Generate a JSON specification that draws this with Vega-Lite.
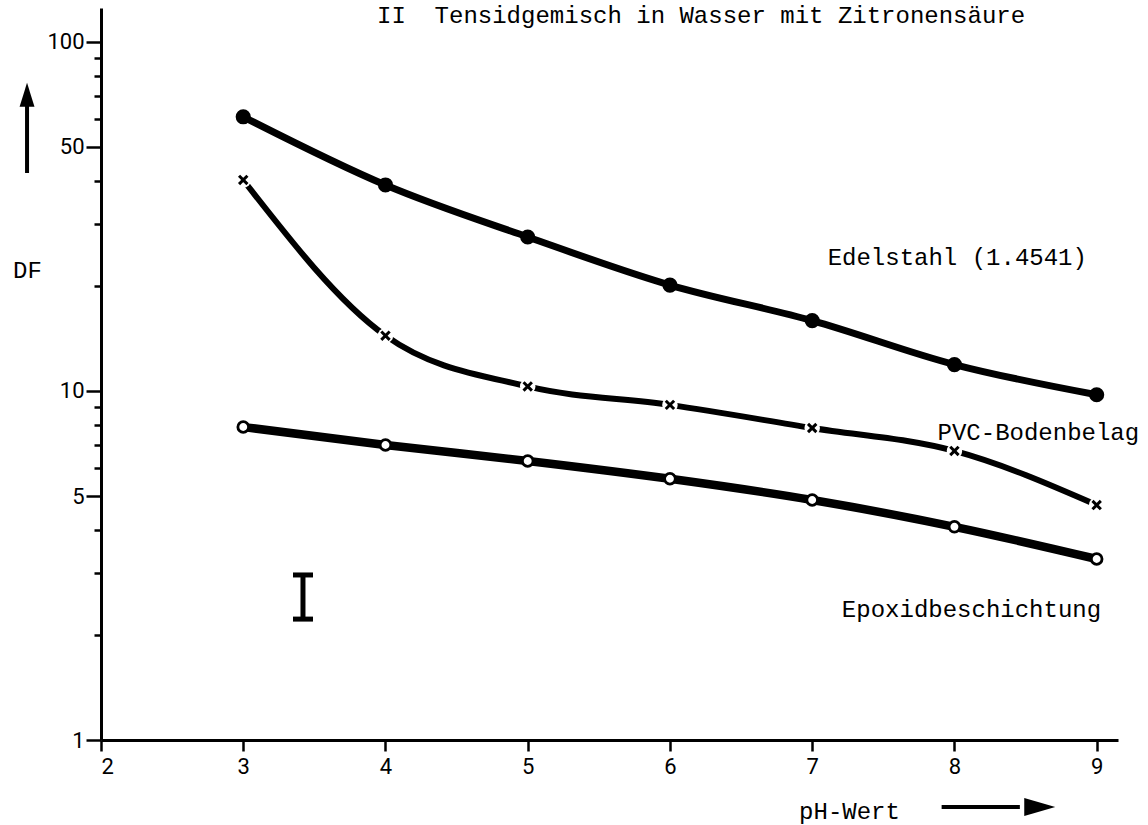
{
  "$schema": "https://vega.github.io/schema/vega-lite/v6.json",
  "width": 1017,
  "height": 732,
  "autosize": {"type": "none"},
  "padding": {"left": 101, "top": 8, "right": 30, "bottom": 85},
  "background": "white",
  "config": {"view": {"stroke": null}},
  "title": {
    "text": "II\u00a0\u00a0Tensidgemisch in Wasser mit Zitronensäure",
    "anchor": "start",
    "frame": "group",
    "orient": "top",
    "offset": 0,
    "dx": 276,
    "dy": 32,
    "baseline": "middle",
    "font": "Courier New, Nimbus Mono PS, FreeMono, Liberation Mono, monospace",
    "fontSize": 24,
    "fontWeight": "normal",
    "color": "black"
  },
  "datasets": {
    "curves": [
      {"series": "Edelstahl", "ph": 3, "df": 61.0},
      {"series": "Edelstahl", "ph": 4, "df": 38.9},
      {"series": "Edelstahl", "ph": 5, "df": 27.6},
      {"series": "Edelstahl", "ph": 6, "df": 20.1},
      {"series": "Edelstahl", "ph": 7, "df": 15.9},
      {"series": "Edelstahl", "ph": 8, "df": 11.9},
      {"series": "Edelstahl", "ph": 9, "df": 9.75},
      {"series": "PVC", "ph": 3, "df": 40.2},
      {"series": "PVC", "ph": 4, "df": 14.4},
      {"series": "PVC", "ph": 5, "df": 10.3},
      {"series": "PVC", "ph": 6, "df": 9.12},
      {"series": "PVC", "ph": 7, "df": 7.83},
      {"series": "PVC", "ph": 8, "df": 6.73},
      {"series": "PVC", "ph": 9, "df": 4.71},
      {"series": "Epoxid", "ph": 3, "df": 7.88},
      {"series": "Epoxid", "ph": 4, "df": 7.0},
      {"series": "Epoxid", "ph": 5, "df": 6.3},
      {"series": "Epoxid", "ph": 6, "df": 5.6},
      {"series": "Epoxid", "ph": 7, "df": 4.87},
      {"series": "Epoxid", "ph": 8, "df": 4.08},
      {"series": "Epoxid", "ph": 9, "df": 3.3}
    ],
    "labels": [
      {"ph": 8.02, "df": 24.0, "text": "Edelstahl (1.4541)"},
      {"ph": 8.59, "df": 7.58, "text": "PVC-Bodenbelag"},
      {"ph": 8.12, "df": 2.36, "text": "Epoxidbeschichtung"}
    ],
    "errbar": [
      {"ph": 3.42, "df": 2.22, "df2": 2.97}
    ],
    "shafts": [
      {"ph": 1.48, "ph2": 1.48, "df": 42.1, "df2": 68.0},
      {"ph": 7.91, "ph2": 8.46, "df": 0.643, "df2": 0.643}
    ],
    "heads": [
      {"dir": "up", "ph": 1.48, "df": 70.5},
      {"dir": "right", "ph": 8.6, "df": 0.643}
    ]
  },
  "encoding": {
    "x": {
      "field": "ph",
      "type": "quantitative",
      "scale": {"type": "linear", "domain": [2, 9.15], "nice": false, "zero": false},
      "axis": {
        "title": "pH-Wert",
        "values": [2, 3, 4, 5, 6, 7, 8, 9],
        "format": "d",
        "grid": false,
        "domainColor": "black",
        "domainWidth": 3,
        "tickColor": "black",
        "tickWidth": 2.5,
        "tickSize": 11,
        "labelFont": "Roboto",
        "labelFontSize": 22,
        "labelColor": "black",
        "labelPadding": 5,
        "titleFont": "Courier New, Nimbus Mono PS, FreeMono, Liberation Mono, monospace",
        "titleFontSize": 24,
        "titleFontWeight": "normal",
        "titleColor": "black",
        "titleX": 748,
        "titleY": 71,
        "titleAlign": "center",
        "titleBaseline": "middle"
      }
    },
    "y": {
      "field": "df",
      "type": "quantitative",
      "scale": {"type": "log", "domain": [1, 125], "nice": false},
      "axis": {
        "title": "DF",
        "values": [1, 2, 3, 4, 5, 6, 7, 8, 9, 10, 20, 30, 40, 50, 60, 70, 80, 90, 100],
        "format": "d",
        "labelExpr": "indexof([1, 5, 10, 50, 100], datum.value) >= 0 ? datum.label : ''",
        "grid": false,
        "domainColor": "black",
        "domainWidth": 3,
        "tickColor": "black",
        "tickWidth": 2.5,
        "tickSize": {"condition": {"test": "indexof([1, 5, 10, 50, 100], datum.value) >= 0", "value": 15}, "value": 7},
        "labelFont": "Roboto",
        "labelFontSize": 22,
        "labelColor": "black",
        "labelPadding": 2,
        "titleFont": "Courier New, Nimbus Mono PS, FreeMono, Liberation Mono, monospace",
        "titleFontSize": 24,
        "titleFontWeight": "normal",
        "titleColor": "black",
        "titleAngle": 0,
        "titleX": -74,
        "titleY": 262,
        "titleAlign": "center",
        "titleBaseline": "middle"
      }
    }
  },
  "layer": [
    {
      "data": {"name": "curves"},
      "transform": [{"filter": "datum.series === 'Edelstahl'"}],
      "mark": {"type": "line", "interpolate": "monotone", "color": "black", "strokeWidth": 7}
    },
    {
      "data": {"name": "curves"},
      "transform": [{"filter": "datum.series === 'PVC'"}],
      "mark": {"type": "line", "interpolate": "monotone", "color": "black", "strokeWidth": 6}
    },
    {
      "data": {"name": "curves"},
      "transform": [{"filter": "datum.series === 'Epoxid'"}],
      "mark": {"type": "line", "interpolate": "monotone", "color": "black", "strokeWidth": 8.5}
    },
    {
      "data": {"name": "curves"},
      "transform": [{"filter": "datum.series === 'PVC'"}],
      "mark": {"type": "point", "shape": "circle", "filled": true, "color": "white", "opacity": 1, "size": 240, "strokeWidth": 0}
    },
    {
      "data": {"name": "curves"},
      "transform": [{"filter": "datum.series === 'PVC'"}],
      "mark": {"type": "point", "shape": "M-1,-1L1,1M1,-1L-1,1", "filled": false, "color": "black", "opacity": 1, "size": 70, "strokeWidth": 3}
    },
    {
      "data": {"name": "curves"},
      "transform": [{"filter": "datum.series === 'Edelstahl'"}],
      "mark": {"type": "point", "shape": "circle", "filled": true, "color": "black", "opacity": 1, "size": 230}
    },
    {
      "data": {"name": "curves"},
      "transform": [{"filter": "datum.series === 'Epoxid'"}],
      "mark": {"type": "point", "shape": "circle", "filled": true, "fill": "white", "stroke": "black", "strokeWidth": 2.8, "opacity": 1, "size": 115}
    },
    {
      "data": {"name": "labels"},
      "mark": {"type": "text", "font": "Courier New, Nimbus Mono PS, FreeMono, Liberation Mono, monospace", "fontSize": 24, "align": "center", "baseline": "middle", "color": "black"},
      "encoding": {"text": {"field": "text"}}
    },
    {
      "data": {"name": "errbar"},
      "mark": {"type": "errorbar", "color": "black", "opacity": 1, "thickness": 5, "ticks": {"size": 20, "thickness": 5, "color": "black", "opacity": 1}},
      "encoding": {"y2": {"field": "df2"}}
    },
    {
      "data": {"name": "shafts"},
      "mark": {"type": "rule", "color": "black", "strokeWidth": 4, "opacity": 1},
      "encoding": {"x2": {"field": "ph2"}, "y2": {"field": "df2"}}
    },
    {
      "data": {"name": "heads"},
      "transform": [{"filter": "datum.dir === 'up'"}],
      "mark": {"type": "point", "shape": "M0,-1L0.62,1L-0.62,1Z", "filled": true, "color": "black", "opacity": 1, "size": 576, "strokeWidth": 0}
    },
    {
      "data": {"name": "heads"},
      "transform": [{"filter": "datum.dir === 'right'"}],
      "mark": {"type": "point", "shape": "M1,0L-1,-0.58L-1,0.58Z", "filled": true, "color": "black", "opacity": 1, "size": 961, "strokeWidth": 0}
    }
  ]
}
